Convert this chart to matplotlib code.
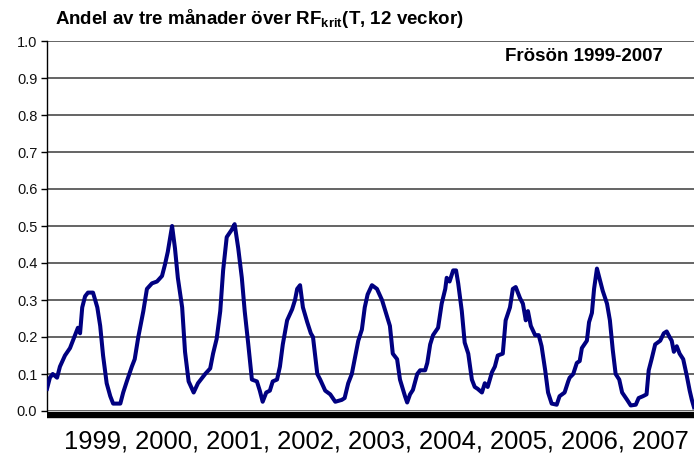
import matplotlib
matplotlib.use('Agg')
import matplotlib.pyplot as plt
import numpy as np

#   fonts: Arial-like look, bold subscript in the title via mathtext
plt.rcParams['font.family'] = ['Liberation Sans', 'DejaVu Sans']
plt.rcParams['mathtext.fontset'] = 'custom'
plt.rcParams['mathtext.rm'] = 'Liberation Sans:bold'
plt.rcParams['mathtext.bf'] = 'Liberation Sans:bold'

#   data: time in decimal years, share of 3 months above RF_krit
t = [1999.00, 1999.04, 1999.08, 1999.14, 1999.18, 1999.25, 1999.32, 1999.39, 1999.43, 1999.46,
     1999.49, 1999.53, 1999.57, 1999.64, 1999.70, 1999.74, 1999.78, 1999.83, 1999.88, 1999.92,
     2000.02, 2000.06, 2000.11, 2000.18, 2000.22, 2000.27, 2000.34, 2000.39, 2000.46, 2000.53,
     2000.60, 2000.64, 2000.68, 2000.74, 2000.78, 2000.82, 2000.88, 2000.92, 2000.97, 2001.04,
     2001.10, 2001.20, 2001.27, 2001.31, 2001.36, 2001.41, 2001.45, 2001.50, 2001.57, 2001.61,
     2001.66, 2001.71, 2001.75, 2001.80, 2001.85, 2001.92, 2001.96, 2002.00, 2002.05, 2002.10,
     2002.14, 2002.20, 2002.24, 2002.28, 2002.34, 2002.41, 2002.45, 2002.48, 2002.52, 2002.56,
     2002.62, 2002.67, 2002.70, 2002.76, 2002.80, 2002.87, 2002.94, 2003.01, 2003.10, 2003.14,
     2003.19, 2003.24, 2003.28, 2003.33, 2003.38, 2003.42, 2003.46, 2003.52, 2003.59, 2003.66,
     2003.73, 2003.77, 2003.81, 2003.87, 2003.91, 2003.98, 2004.01, 2004.05, 2004.09, 2004.15,
     2004.19, 2004.26, 2004.29, 2004.33, 2004.37, 2004.44, 2004.49, 2004.54, 2004.56, 2004.60,
     2004.65, 2004.69, 2004.72, 2004.77, 2004.81, 2004.86, 2004.91, 2004.95, 2004.99, 2005.05,
     2005.09, 2005.13, 2005.19, 2005.23, 2005.27, 2005.34, 2005.38, 2005.44, 2005.48, 2005.52,
     2005.58, 2005.62, 2005.66, 2005.69, 2005.73, 2005.79, 2005.84, 2005.88, 2005.93, 2005.97,
     2006.02, 2006.09, 2006.13, 2006.20, 2006.25, 2006.27, 2006.32, 2006.37, 2006.41, 2006.44,
     2006.51, 2006.54, 2006.58, 2006.61, 2006.65, 2006.69, 2006.73, 2006.79, 2006.83, 2006.87,
     2006.91, 2006.96, 2007.00, 2007.07, 2007.12, 2007.19, 2007.23, 2007.29, 2007.34, 2007.37,
     2007.41, 2007.46, 2007.53, 2007.58, 2007.62, 2007.66, 2007.69, 2007.72, 2007.76, 2007.80,
     2007.85, 2007.90, 2007.94, 2007.97, 2008.00]
andel = [0.06, 0.09, 0.10, 0.09, 0.12, 0.15, 0.17, 0.205, 0.225, 0.21,
         0.28, 0.31, 0.32, 0.32, 0.28, 0.23, 0.15, 0.075, 0.04, 0.02,
         0.02, 0.05, 0.08, 0.12, 0.14, 0.20, 0.27, 0.33, 0.345, 0.35,
         0.365, 0.395, 0.43, 0.50, 0.44, 0.36, 0.28, 0.16, 0.08, 0.05,
         0.075, 0.10, 0.115, 0.155, 0.195, 0.27, 0.38, 0.47, 0.49, 0.505,
         0.44, 0.36, 0.27, 0.18, 0.085, 0.08, 0.055, 0.025, 0.05, 0.055,
         0.08, 0.085, 0.12, 0.18, 0.245, 0.275, 0.30, 0.33, 0.34, 0.28,
         0.24, 0.21, 0.20, 0.10, 0.085, 0.055, 0.045, 0.025, 0.03, 0.035,
         0.075, 0.10, 0.14, 0.19, 0.22, 0.28, 0.315, 0.34, 0.33, 0.30,
         0.255, 0.23, 0.155, 0.14, 0.085, 0.04, 0.023, 0.045, 0.057, 0.10,
         0.11, 0.11, 0.13, 0.18, 0.205, 0.225, 0.29, 0.33, 0.36, 0.35,
         0.38, 0.38, 0.345, 0.27, 0.185, 0.155, 0.085, 0.065, 0.06, 0.05,
         0.075, 0.065, 0.105, 0.12, 0.15, 0.155, 0.245, 0.28, 0.33, 0.335,
         0.305, 0.29, 0.245, 0.27, 0.23, 0.205, 0.205, 0.175, 0.11, 0.05,
         0.02, 0.017, 0.04, 0.05, 0.08, 0.09, 0.10, 0.13, 0.135, 0.17,
         0.19, 0.24, 0.265, 0.33, 0.385, 0.355, 0.325, 0.29, 0.245, 0.165,
         0.10, 0.085, 0.05, 0.03, 0.015, 0.017, 0.035, 0.04, 0.045, 0.11,
         0.14, 0.18, 0.19, 0.21, 0.215, 0.20, 0.19, 0.16, 0.175, 0.155,
         0.14, 0.095, 0.055, 0.03, 0.01]

years = ['1999', '2000', '2001', '2002', '2003', '2004', '2005', '2006', '2007']
yticks = np.arange(0.0, 1.01, 0.1)

fig = plt.figure(figsize=(6.95, 4.59), dpi=100)
ax = fig.add_axes([47/695, 48/459, 647/695, 370/459])

ax.plot(t, andel, color='#000080', lw=2.9, solid_joinstyle='round', zorder=3)

ax.set_xlim(1999.0, 2008.0)
ax.set_ylim(0.0, 1.0)
ax.set_yticks(yticks)
ax.set_yticklabels(['%.1f' % v for v in yticks], fontsize=10.5, color='#111111')
ax.tick_params(axis='y', direction='out', length=4, width=1, pad=3)
ax.set_xticks([])
ax.grid(axis='y', color='#646464', lw=1.4)
ax.set_axisbelow(True)

for s in ('top', 'right'):
    ax.spines[s].set_visible(False)
ax.spines['left'].set_linewidth(1.0)
ax.spines['bottom'].set_linewidth(4.6)
ax.spines['bottom'].set_position(('outward', 3))
ax.spines['bottom'].set_capstyle('butt')

fig.text(55/695, 1 - 18/459, r'Andel av tre månader över RF$_{\mathbf{krit}}$(T, 12 veckor)',
         fontsize=13.5, fontweight='bold', ha='left', va='center')
ax.text(0.952, 0.957, 'Frösön 1999-2007', transform=ax.transAxes,
        fontsize=13.5, fontweight='bold', ha='right', va='center')
fig.text(376/695, 1 - 441/459, ', '.join(years), fontsize=18.4, ha='center', va='center')

fig.savefig('out.png', dpi=100)
